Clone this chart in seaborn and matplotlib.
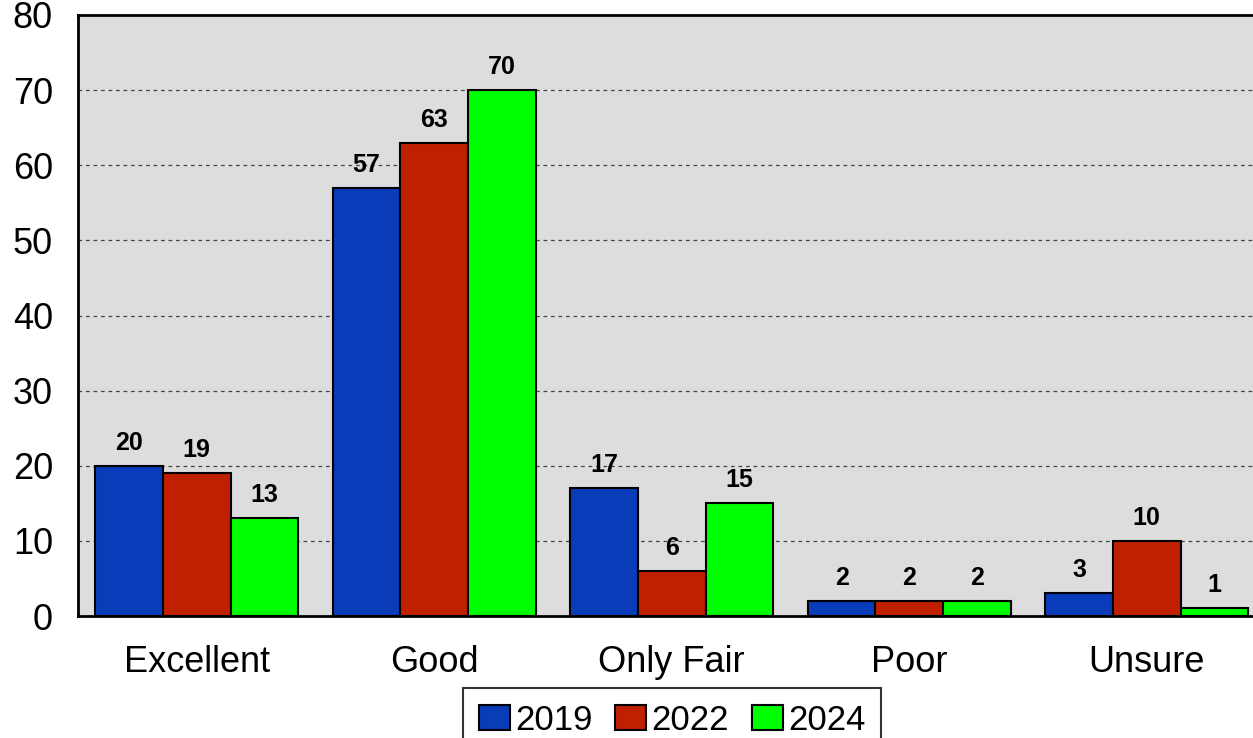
import matplotlib
matplotlib.use("Agg")
import matplotlib.pyplot as plt
import seaborn as sns
import pandas as pd

categories = ["Excellent", "Good", "Only Fair", "Poor", "Unsure"]
years = ["2019", "2022", "2024"]
v2019 = [20, 57, 17, 2, 3]
v2022 = [19, 63, 6, 2, 10]
v2024 = [13, 70, 15, 2, 1]
colors = ["#0A3CBA", "#C02000", "#00FF00"]

rows = []
for y, vals in zip(years, [v2019, v2022, v2024]):
    for c, v in zip(categories, vals):
        rows.append({"Category": c, "Year": y, "Value": v})
df = pd.DataFrame(rows)

sns.set_style("white")
plt.rcParams["font.family"] = ["Liberation Sans", "DejaVu Sans"]
plt.rcParams["text.color"] = "black"
plt.rcParams["xtick.color"] = "black"
plt.rcParams["ytick.color"] = "black"

W, H = 1253, 738
fig = plt.figure(figsize=(W / 100, H / 100), dpi=100)
left, top, bottom = 78, 15, 616
axw = 1187.5
ax = fig.add_axes([left / W, (H - bottom) / H, axw / W, (bottom - top) / H])
ax.set_facecolor("#DDDDDD")

sns.barplot(data=df, x="Category", y="Value", hue="Year", palette=colors,
            order=categories, hue_order=years, width=0.853,
            edgecolor="black", linewidth=1.5, ax=ax, saturation=1)

for cont in ax.containers:
    ax.bar_label(cont, padding=8, fontsize=18, fontweight="bold", color="black")

ax.set_ylim(0, 80)
ax.set_xlim(-0.5, 4.5)
ax.set_yticks(range(0, 81, 10))
ax.set_xlabel("")
ax.set_ylabel("")
ax.tick_params(axis="y", labelsize=26, length=0, pad=18, colors="black")
ax.tick_params(axis="x", labelsize=26, length=0, pad=21, colors="black")
for yv in range(10, 80, 10):
    ax.axhline(yv, color="#444444", linestyle=(0, (3, 3)), linewidth=0.9, zorder=0)
ax.set_axisbelow(True)
for s in ["left", "top", "bottom"]:
    ax.spines[s].set_color("black")
    ax.spines[s].set_linewidth(2)
ax.spines["right"].set_visible(False)

handles, labels = ax.get_legend_handles_labels()
if ax.legend_:
    ax.legend_.remove()
leg = fig.legend(handles, labels, loc="upper center",
                 bbox_to_anchor=(672 / W, 1 - 688 / H), ncol=3, fontsize=25,
                 frameon=True, fancybox=False, edgecolor="black",
                 handlelength=0.9, handleheight=0.75, handletextpad=0.15,
                 columnspacing=0.65, borderpad=0.45, borderaxespad=0)
leg.get_frame().set_linewidth(1.5)

fig.savefig("out.png", dpi=100)
